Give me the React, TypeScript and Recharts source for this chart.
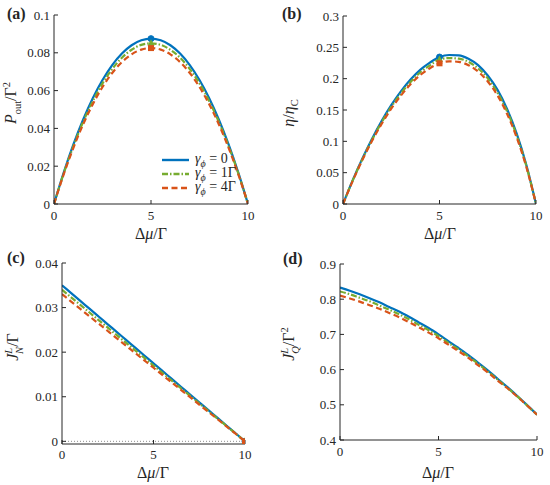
import React from 'react';
import { ComposedChart, Line, XAxis, YAxis, ReferenceLine } from 'recharts';

// Δμ/Γ grid
const MU = [0, 0.5, 1, 1.5, 2, 2.5, 3, 3.5, 4, 4.5, 5, 5.5, 6, 6.5, 7, 7.5, 8, 8.5, 9, 9.5, 10];

// (a) P_out / Γ²
const P_OUT_G0 = [0, 0.0166, 0.0315, 0.0446, 0.056, 0.0656, 0.0735, 0.0796, 0.084, 0.0866, 0.0875, 0.0866, 0.084, 0.0796, 0.0735, 0.0656, 0.056, 0.0446, 0.0315, 0.0166, 0];
const P_OUT_G1 = [0, 0.0162, 0.0306, 0.0434, 0.0544, 0.0638, 0.0714, 0.0774, 0.0816, 0.0842, 0.085, 0.0842, 0.0816, 0.0774, 0.0714, 0.0638, 0.0544, 0.0434, 0.0306, 0.0162, 0];
const P_OUT_G4 = [0, 0.0157, 0.0297, 0.0421, 0.0528, 0.0619, 0.0693, 0.0751, 0.0792, 0.0817, 0.0825, 0.0817, 0.0792, 0.0751, 0.0693, 0.0619, 0.0528, 0.0421, 0.0297, 0.0157, 0];

// (b) η / η_C
const ETA_G0 = [0, 0.0377, 0.0724, 0.1039, 0.1324, 0.1577, 0.1797, 0.1985, 0.214, 0.2256, 0.2345, 0.2378, 0.2373, 0.2319, 0.2217, 0.2051, 0.1825, 0.1516, 0.1122, 0.0622, 0];
const ETA_G1 = [0, 0.0372, 0.0712, 0.1022, 0.1301, 0.1549, 0.1764, 0.1948, 0.2099, 0.2211, 0.2307, 0.2329, 0.2319, 0.2269, 0.2164, 0.2005, 0.1778, 0.1481, 0.1092, 0.0608, 0];
const ETA_G4 = [0, 0.0366, 0.07, 0.1005, 0.1277, 0.1521, 0.173, 0.1911, 0.2057, 0.2167, 0.2245, 0.2277, 0.2268, 0.2215, 0.2114, 0.1955, 0.1735, 0.1439, 0.1062, 0.059, 0];

// (c) J_N^L / Γ
const JN_G0 = [0.035, 0.03325, 0.0315, 0.02975, 0.028, 0.02625, 0.0245, 0.02275, 0.021, 0.01925, 0.0175, 0.01575, 0.014, 0.01225, 0.0105, 0.00875, 0.007, 0.00525, 0.0035, 0.00175, 0];
const JN_G1 = [0.034, 0.0323, 0.0306, 0.0289, 0.0272, 0.0255, 0.0238, 0.0221, 0.0204, 0.0187, 0.017, 0.0153, 0.0136, 0.0119, 0.0102, 0.0085, 0.0068, 0.0051, 0.0034, 0.0017, 0];
const JN_G4 = [0.033, 0.03135, 0.0297, 0.02805, 0.0264, 0.02475, 0.0231, 0.02145, 0.0198, 0.01815, 0.0165, 0.01485, 0.0132, 0.01155, 0.0099, 0.00825, 0.0066, 0.00495, 0.0033, 0.00165, 0];

// (d) J_Q^L / Γ²
const JQ_G0 = [0.833, 0.824, 0.814, 0.803, 0.791, 0.778, 0.765, 0.75, 0.734, 0.718, 0.7, 0.681, 0.662, 0.642, 0.62, 0.598, 0.574, 0.55, 0.525, 0.499, 0.472];
const JQ_G1 = [0.822, 0.814, 0.804, 0.794, 0.782, 0.77, 0.757, 0.743, 0.727, 0.712, 0.695, 0.676, 0.658, 0.638, 0.617, 0.595, 0.572, 0.548, 0.524, 0.498, 0.472];
const JQ_G4 = [0.81, 0.802, 0.793, 0.783, 0.773, 0.761, 0.749, 0.735, 0.72, 0.705, 0.689, 0.671, 0.653, 0.634, 0.613, 0.592, 0.569, 0.547, 0.523, 0.498, 0.472];

const X_TICKS = [0, 5, 10];
const P_TICKS = [0, 0.02, 0.04, 0.06, 0.08, 0.1];
const ETA_TICKS = [0, 0.05, 0.1, 0.15, 0.2, 0.25, 0.3];
const JN_TICKS = [0, 0.01, 0.02, 0.03, 0.04];
const JQ_TICKS = [0.4, 0.5, 0.6, 0.7, 0.8, 0.9];

const LEGEND = ['0', '1Γ', '4Γ'];

const BLUE = '#0072BD';
const GREEN = '#77AC30';
const ORANGE = '#D95319';
const AXIS = '#262626';
const FONT = '"Liberation Serif", "DejaVu Serif", serif';

const SERIES = [
  { key: 'g0', color: BLUE, dash: undefined, shape: 'circle' },
  { key: 'g1', color: GREEN, dash: '6 2 1.5 2', shape: 'triangle' },
  { key: 'g4', color: ORANGE, dash: '6 3.5', shape: 'square' },
];

const rows = (a: number[], b: number[], c: number[]) =>
  MU.map((x, i) => ({ x, g0: a[i], g1: b[i], g4: c[i] }));

const markerDot = (markX: number, shape: string, color: string) => (props: any) => {
  const { cx, cy, payload, index } = props;
  if (payload.x !== markX) return <g key={`d${index}`} />;
  if (shape === 'circle') return <circle key={`d${index}`} cx={cx} cy={cy} r={3} fill={color} stroke={color} />;
  if (shape === 'triangle')
    return <polygon key={`d${index}`} points={`${cx},${cy - 4} ${cx - 3.5},${cy + 2.5} ${cx + 3.5},${cy + 2.5}`} fill={color} />;
  return <rect key={`d${index}`} x={cx - 3} y={cy - 3} width={6} height={6} fill={color} />;
};

// tick labels drawn as plain svg text so the serif face is really used
const xTick = (props: any) => (
  <text x={props.x} y={props.y} dy="0.71em" textAnchor="middle" fill={AXIS} fontSize={13} fontFamily={FONT}>
    {props.payload.value}
  </text>
);
const yTick = (props: any) => (
  <text x={props.x} y={props.y} dy="0.35em" textAnchor="end" fill={AXIS} fontSize={13} fontFamily={FONT}>
    {props.payload.value}
  </text>
);

interface PanelProps {
  left: number;
  top: number;
  width: number;
  height: number;
  yWidth: number;
  margin: { top: number; right: number; left: number; bottom: number };
  xHeight: number;
  xTickMargin: number;
  data: Array<Record<string, number>>;
  yDomain: [number, number];
  yTicks: number[];
  markX: number;
  zeroLine?: boolean;
}

function Panel(p: PanelProps) {
  return (
    <div style={{ position: 'absolute', left: p.left, top: p.top }}>
      <ComposedChart width={p.width} height={p.height} data={p.data} margin={p.margin}>
        <XAxis
          dataKey="x"
          type="number"
          domain={[0, 10]}
          ticks={X_TICKS}
          height={p.xHeight}
          tickSize={-4}
          tickMargin={p.xTickMargin}
          stroke={AXIS}
          tick={xTick}
          allowDataOverflow
        />
        <XAxis
          xAxisId="top"
          orientation="top"
          dataKey="x"
          type="number"
          domain={[0, 10]}
          ticks={X_TICKS}
          height={0}
          tickSize={-4}
          stroke={AXIS}
          tickFormatter={() => ''}
          allowDataOverflow
        />
        <YAxis
          type="number"
          domain={p.yDomain}
          ticks={p.yTicks}
          width={p.yWidth}
          tickSize={-4}
          tickMargin={8}
          stroke={AXIS}
          tick={yTick}
          allowDataOverflow
        />
        <YAxis
          yAxisId="right"
          orientation="right"
          type="number"
          domain={p.yDomain}
          ticks={p.yTicks}
          width={0}
          tickSize={-4}
          stroke={AXIS}
          tickFormatter={() => ''}
          allowDataOverflow
        />
        {p.zeroLine && <ReferenceLine y={0} stroke="#8c8c8c" strokeDasharray="1 2" />}
        {SERIES.map((s) => (
          <Line
            key={s.key}
            type="monotone"
            dataKey={s.key}
            stroke={s.color}
            strokeWidth={2.2}
            strokeDasharray={s.dash}
            dot={markerDot(p.markX, s.shape, s.color)}
            activeDot={false}
            isAnimationActive={false}
          />
        ))}
      </ComposedChart>
    </div>
  );
}

const absText = (left: number, top: number, content: React.ReactNode, extra: React.CSSProperties = {}) => (
  <div
    style={{
      position: 'absolute',
      left,
      top,
      fontFamily: FONT,
      fontSize: 16,
      color: AXIS,
      whiteSpace: 'nowrap',
      lineHeight: 1,
      ...extra,
    }}
  >
    {content}
  </div>
);

const muLabel = (
  <span>
    Δ<i>μ</i>/Γ
  </span>
);

const rotated = (cx: number, cy: number, content: React.ReactNode) => (
  <div
    style={{
      position: 'absolute',
      left: cx,
      top: cy,
      transform: 'translate(-50%, -50%) rotate(-90deg)',
      fontFamily: FONT,
      fontSize: 16,
      color: AXIS,
      whiteSpace: 'nowrap',
      lineHeight: 1,
    }}
  >
    {content}
  </div>
);

const small: React.CSSProperties = { fontSize: 10.5 };

export default function App() {
  return (
    <div style={{ position: 'absolute', left: 0, top: 0, width: 550, height: 485, background: '#fff' }}>
      <Panel
        left={0}
        top={0}
        width={275}
        height={240}
        yWidth={54}
        margin={{ top: 15, right: 27, left: 0, bottom: 0 }}
        xHeight={36}
        xTickMargin={11}
        data={rows(P_OUT_G0, P_OUT_G1, P_OUT_G4)}
        yDomain={[0, 0.1]}
        yTicks={P_TICKS}
        markX={5}
      />
      <Panel
        left={275}
        top={0}
        width={275}
        height={240}
        yWidth={68}
        margin={{ top: 16, right: 14, left: 0, bottom: 0 }}
        xHeight={36}
        xTickMargin={11}
        data={rows(ETA_G0, ETA_G1, ETA_G4)}
        yDomain={[0, 0.3]}
        yTicks={ETA_TICKS}
        markX={5}
      />
      <Panel
        left={0}
        top={240}
        width={275}
        height={245}
        yWidth={62}
        margin={{ top: 23, right: 30, left: 0, bottom: 0 }}
        xHeight={41}
        xTickMargin={10}
        data={rows(JN_G0, JN_G1, JN_G4)}
        yDomain={[-0.0006, 0.04]}
        yTicks={JN_TICKS}
        markX={10}
        zeroLine
      />
      <Panel
        left={275}
        top={240}
        width={275}
        height={245}
        yWidth={65}
        margin={{ top: 24, right: 13, left: 0, bottom: 0 }}
        xHeight={45}
        xTickMargin={11}
        data={rows(JQ_G0, JQ_G1, JQ_G4)}
        yDomain={[0.4, 0.9]}
        yTicks={JQ_TICKS}
        markX={100}
      />

      {/* panel tags */}
      {absText(7, 6, '(a)', { fontWeight: 'bold', fontSize: 16 })}
      {absText(282, 6, '(b)', { fontWeight: 'bold', fontSize: 16 })}
      {absText(7, 250, '(c)', { fontWeight: 'bold', fontSize: 16 })}
      {absText(283, 251, '(d)', { fontWeight: 'bold', fontSize: 16 })}

      {/* x titles */}
      {absText(151, 226, muLabel, { transform: 'translateX(-50%)' })}
      {absText(440, 226, muLabel, { transform: 'translateX(-50%)' })}
      {absText(153, 465, muLabel, { transform: 'translateX(-50%)' })}
      {absText(438, 465, muLabel, { transform: 'translateX(-50%)' })}

      {/* y titles */}
      {rotated(13, 103, (
        <span>
          <i>P</i>
          <sub style={small}>out</sub>/Γ<sup style={small}>2</sup>
        </span>
      ))}
      {rotated(291, 113, (
        <span>
          <i>η</i>/<i>η</i>
          <sub style={small}>C</sub>
        </span>
      ))}
      {rotated(15, 347, (
        <span>
          <i>J</i>
          <sup style={{ ...small, fontStyle: 'italic' }}>L</sup>
          <sub style={{ ...small, fontStyle: 'italic', marginLeft: -6 }}>N</sub>/Γ
        </span>
      ))}
      {rotated(291, 344, (
        <span>
          <i>J</i>
          <sup style={{ ...small, fontStyle: 'italic' }}>L</sup>
          <sub style={{ ...small, fontStyle: 'italic', marginLeft: -6 }}>Q</sub>/Γ<sup style={small}>2</sup>
        </span>
      ))}

      {/* legend in (a) */}
      <div style={{ position: 'absolute', left: 162, top: 153 }}>
        {SERIES.map((s, i) => (
          <div key={s.key} style={{ display: 'flex', alignItems: 'center', height: 14 }}>
            <svg width={27} height={6} style={{ marginRight: 6 }}>
              <line x1={0} y1={3} x2={27} y2={3} stroke={s.color} strokeWidth={2.4} strokeDasharray={s.dash} />
            </svg>
            <span style={{ fontFamily: FONT, fontSize: 14, color: AXIS, whiteSpace: 'nowrap' }}>
              <i>γ</i>
              <sub style={{ fontSize: 10, fontStyle: 'italic' }}>ϕ</sub> = {LEGEND[i]}
            </span>
          </div>
        ))}
      </div>
    </div>
  );
}
